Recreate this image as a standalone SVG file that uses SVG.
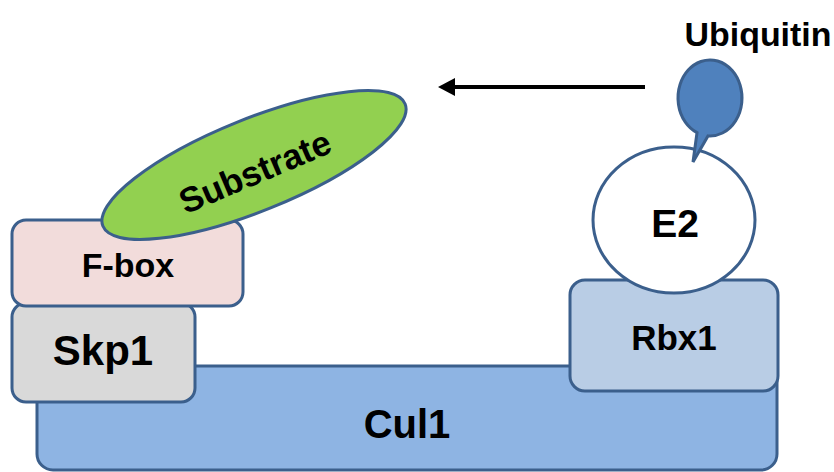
<svg xmlns="http://www.w3.org/2000/svg" width="834" height="472" viewBox="0 0 834 472">
<style>
.s{stroke:#3b5f8c;stroke-width:3}
.t{font-family:"Liberation Sans",Arial,sans-serif;font-weight:bold;fill:#000;text-anchor:middle}
</style>
<rect width="834" height="472" fill="#fff"/>
<g id="cul1">
<rect class="s" x="37" y="366" width="740" height="104" rx="16" fill="#8eb4e3"/>
<text class="t" x="407" y="438" font-size="40">Cul1</text>
</g>
<g id="skp1">
<rect class="s" x="12" y="303" width="183" height="99" rx="14" fill="#d9d9d9"/>
<text class="t" x="103" y="365" font-size="42">Skp1</text>
</g>
<g id="fbox">
<rect class="s" x="12" y="220" width="231" height="86" rx="14" fill="#f2dcdb"/>
<text class="t" x="128" y="277" font-size="34">F-box</text>
</g>
<g id="substrate">
<ellipse class="s" cx="254" cy="165" rx="163" ry="46" transform="rotate(-22 254 165)" fill="#92d050"/>
<text class="t" font-size="35" transform="translate(255,172) rotate(-23)" y="12">Substrate</text>
</g>
<g id="rbx1">
<rect class="s" x="570" y="280" width="208" height="111" rx="15" fill="#b9cde5"/>
<text class="t" x="674" y="350" font-size="35">Rbx1</text>
</g>
<g id="e2">
<ellipse class="s" cx="674" cy="220" rx="81" ry="73" fill="#fff"/>
<text class="t" x="675" y="237" font-size="39">E2</text>
</g>
<g id="ubiquitin">
<path class="s" d="M697,132.7 L693,162 L708,135.9 A32 38 0 1 0 697,132.7 Z" fill="#4f81bd" stroke-linejoin="miter"/>
<text class="t" x="758" y="46" font-size="33" textLength="147" lengthAdjust="spacingAndGlyphs">Ubiquitin</text>
</g>
<g id="connectors">
<line x1="645" y1="87" x2="452" y2="87" stroke="#000" stroke-width="4"/>
<polygon points="438,87 455,78 455,96" fill="#000"/>
</g>
</svg>
